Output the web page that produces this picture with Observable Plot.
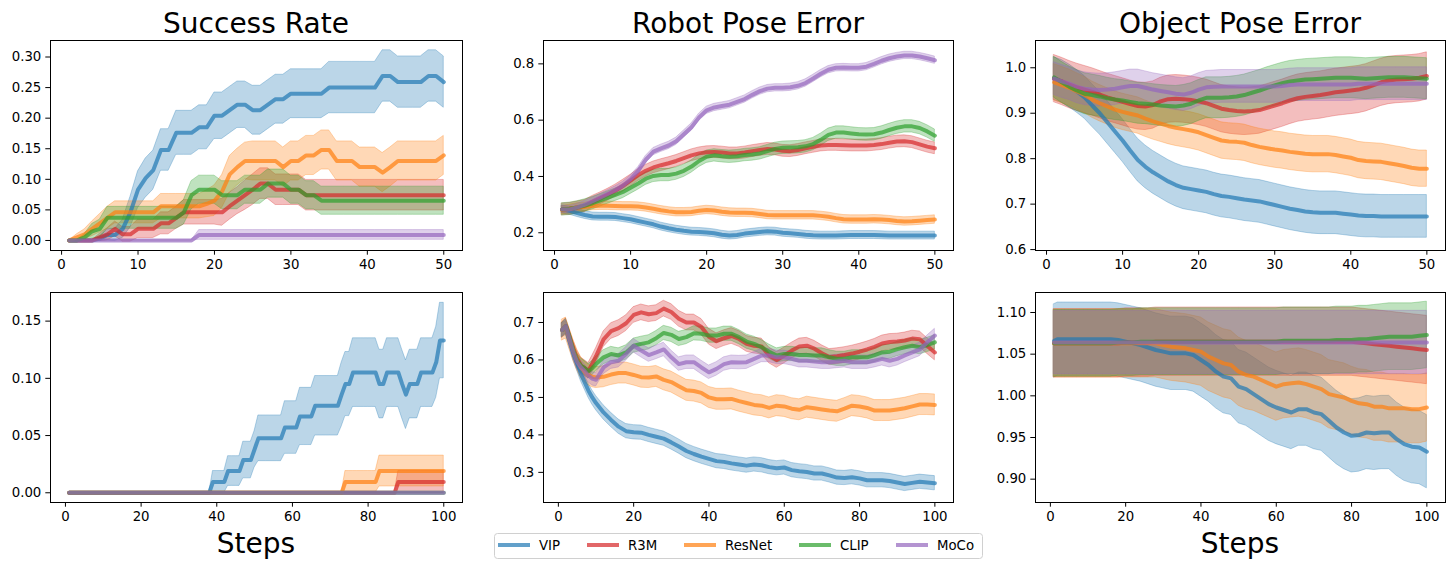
<!DOCTYPE html>
<html><head><meta charset="utf-8">
<script src="https://cdn.jsdelivr.net/npm/d3@7"></script>
<script src="https://cdn.jsdelivr.net/npm/@observablehq/plot@0.6"></script>
<style>
html,body{margin:0;padding:0;background:#fff;overflow:hidden}
#root{position:relative;width:1455px;height:569px;font-family:"DejaVu Sans",sans-serif}
</style></head><body><div id="root"></div>
<script>
// ---------- categories ----------
const SERIES = ["VIP", "R3M", "ResNet", "CLIP", "MoCo"];
const COLORS = ["#1f77b4", "#d62728", "#ff7f0e", "#2ca02c", "#9467bd"];
const TITLES = ["Success Rate", "Robot Pose Error", "Object Pose Error"];
const XLABEL = "Steps";
const STEPS_TOP = d3.range(1, 51);
const STEPS_BL = d3.range(1, 101);
const STEPS_B = [1,2,3,4,5,6,7,8,9,10,12,14,16,18,20,22,24,26,28,30,32,34,36,38,40,42,44,46,48,50,52,54,56,58,60,62,64,66,68,70,72,74,76,78,80,82,84,86,88,90,92,94,96,98,100];
const XTICKS_TOP = [0,10,20,30,40,50];
const XTICKS_BOT = [0,20,40,60,80,100];
const YTICKS = [
  [0,0.05,0.10,0.15,0.20,0.25,0.30],
  [0.2,0.4,0.6,0.8],
  [0.6,0.7,0.8,0.9,1.0],
  [0,0.05,0.10,0.15],
  [0.3,0.4,0.5,0.6,0.7],
  [0.90,0.95,1.00,1.05,1.10]
];

// ---------- Success rate, top (steps 1..50) ----------
const sr1_VIP = [0,0,0,0,0.003,0.009,0.009,0.019,0.046,0.083, 0.102,0.115,0.148,0.148,0.176,0.176,0.176,0.185,0.185,0.204, 0.204,0.213,0.222,0.222,0.213,0.213,0.222,0.231,0.231,0.24, 0.24,0.24,0.24,0.24,0.25,0.25,0.25,0.25,0.25,0.25, 0.25,0.269,0.269,0.259,0.259,0.259,0.259,0.269,0.269,0.259];
const sr1_VIP_err = [0,0,0,0,0.004,0.009,0.01,0.015,0.025,0.03, 0.032,0.032,0.034,0.034,0.036,0.036,0.036,0.036,0.036,0.038, 0.038,0.038,0.038,0.038,0.04,0.04,0.04,0.04,0.04,0.04, 0.04,0.04,0.04,0.04,0.042,0.042,0.042,0.042,0.042,0.042, 0.042,0.042,0.042,0.042,0.042,0.042,0.042,0.042,0.042,0.042];
const sr1_R3M = [0,0,0,0,0.005,0.01,0.019,0.01,0.01,0.019, 0.019,0.019,0.028,0.028,0.037,0.046,0.046,0.046,0.046,0.046, 0.046,0.056,0.065,0.074,0.083,0.093,0.093,0.083,0.083,0.083, 0.083,0.074,0.074,0.074,0.074,0.074,0.074,0.074,0.074,0.074, 0.074,0.074,0.074,0.074,0.074,0.074,0.074,0.074,0.074,0.074];
const sr1_R3M_err = [0,0,0,0,0.006,0.01,0.012,0.012,0.012,0.015, 0.015,0.015,0.018,0.018,0.018,0.02,0.02,0.02,0.02,0.02, 0.022,0.022,0.022,0.024,0.025,0.025,0.025,0.025,0.025,0.025, 0.025,0.025,0.025,0.025,0.025,0.025,0.025,0.025,0.025,0.025, 0.025,0.025,0.025,0.025,0.025,0.025,0.025,0.025,0.025,0.025];
const sr1_ResNet = [0,0.005,0.01,0.019,0.028,0.037,0.046,0.046,0.046,0.046, 0.046,0.046,0.056,0.056,0.056,0.056,0.056,0.056,0.06,0.065, 0.08,0.108,0.12,0.13,0.13,0.13,0.13,0.13,0.12,0.13, 0.13,0.139,0.139,0.148,0.148,0.13,0.13,0.13,0.12,0.12, 0.12,0.111,0.12,0.13,0.13,0.13,0.13,0.13,0.13,0.139];
const sr1_ResNet_err = [0,0.005,0.008,0.012,0.015,0.018,0.018,0.018,0.018,0.018, 0.018,0.018,0.02,0.02,0.02,0.02,0.02,0.02,0.022,0.025, 0.027,0.03,0.03,0.03,0.032,0.032,0.032,0.032,0.032,0.032, 0.032,0.032,0.032,0.032,0.032,0.032,0.032,0.032,0.032,0.032, 0.032,0.032,0.032,0.032,0.032,0.032,0.032,0.032,0.032,0.032];
const sr1_CLIP = [0,0,0.005,0.015,0.019,0.037,0.037,0.037,0.037,0.037, 0.037,0.037,0.037,0.037,0.037,0.046,0.074,0.083,0.083,0.083, 0.074,0.074,0.074,0.083,0.083,0.083,0.093,0.093,0.093,0.083, 0.083,0.074,0.074,0.065,0.065,0.065,0.065,0.065,0.065,0.065, 0.065,0.065,0.065,0.065,0.065,0.065,0.065,0.065,0.065,0.065];
const sr1_CLIP_err = [0,0,0.005,0.012,0.015,0.018,0.018,0.018,0.018,0.018, 0.018,0.018,0.018,0.018,0.018,0.02,0.023,0.023,0.023,0.023, 0.023,0.023,0.023,0.023,0.023,0.023,0.023,0.023,0.023,0.023, 0.023,0.023,0.023,0.023,0.023,0.023,0.023,0.023,0.023,0.023, 0.023,0.023,0.023,0.023,0.023,0.023,0.023,0.023,0.023,0.023];
const sr1_MoCo = [0,0,0,0,0,0,0,0,0,0, 0,0,0,0,0,0,0,0.009,0.009,0.009, 0.009,0.009,0.009,0.009,0.009,0.009,0.009,0.009,0.009,0.009, 0.009,0.009,0.009,0.009,0.009,0.009,0.009,0.009,0.009,0.009, 0.009,0.009,0.009,0.009,0.009,0.009,0.009,0.009,0.009,0.009];
const sr1_MoCo_err = [0,0,0,0,0,0,0,0,0,0, 0,0,0,0,0,0,0,0.008,0.008,0.008, 0.008,0.008,0.008,0.008,0.008,0.008,0.008,0.008,0.008,0.008, 0.008,0.008,0.008,0.008,0.008,0.008,0.008,0.008,0.008,0.008, 0.008,0.008,0.008,0.008,0.008,0.008,0.008,0.008,0.008,0.008];

// ---------- Robot pose error, top (steps 1..50) ----------
const rp1_VIP = [0.283,0.278,0.27,0.263,0.258,0.257,0.257,0.256,0.252,0.248, 0.242,0.236,0.23,0.222,0.216,0.211,0.207,0.204,0.203,0.201, 0.198,0.193,0.19,0.192,0.197,0.2,0.203,0.205,0.204,0.2, 0.198,0.196,0.193,0.191,0.19,0.19,0.19,0.191,0.192,0.192, 0.192,0.192,0.191,0.19,0.19,0.19,0.19,0.19,0.19,0.19];
const rp1_R3M = [0.283,0.285,0.29,0.295,0.31,0.322,0.335,0.35,0.367,0.385, 0.405,0.42,0.432,0.44,0.447,0.455,0.465,0.475,0.482,0.486, 0.487,0.485,0.482,0.482,0.485,0.49,0.494,0.498,0.496,0.491, 0.49,0.494,0.5,0.505,0.51,0.512,0.512,0.511,0.51,0.51, 0.51,0.512,0.515,0.52,0.524,0.525,0.522,0.514,0.506,0.5];
const rp1_ResNet = [0.28,0.285,0.29,0.292,0.295,0.296,0.296,0.295,0.294,0.294, 0.293,0.29,0.285,0.28,0.276,0.273,0.273,0.274,0.278,0.281, 0.279,0.275,0.272,0.271,0.271,0.27,0.267,0.263,0.262,0.262, 0.262,0.262,0.262,0.262,0.26,0.257,0.252,0.248,0.247,0.247, 0.247,0.248,0.247,0.245,0.242,0.24,0.241,0.243,0.245,0.247];
const rp1_CLIP = [0.283,0.285,0.29,0.297,0.305,0.315,0.325,0.335,0.345,0.36, 0.375,0.392,0.402,0.405,0.405,0.41,0.42,0.435,0.455,0.47, 0.475,0.472,0.47,0.472,0.476,0.478,0.482,0.49,0.498,0.502, 0.503,0.504,0.507,0.515,0.53,0.548,0.556,0.556,0.553,0.55, 0.549,0.55,0.556,0.565,0.573,0.578,0.578,0.572,0.56,0.545];
const rp1_MoCo = [0.283,0.283,0.29,0.3,0.312,0.325,0.338,0.352,0.368,0.39, 0.42,0.46,0.488,0.5,0.51,0.525,0.55,0.575,0.61,0.635, 0.645,0.65,0.655,0.665,0.675,0.69,0.703,0.712,0.715,0.715, 0.717,0.722,0.732,0.748,0.765,0.779,0.786,0.787,0.786,0.786, 0.79,0.8,0.811,0.82,0.826,0.83,0.83,0.826,0.82,0.813];
const rp1_err = [0.014, 0.021, 0.015, 0.022, 0.013];

// ---------- Object pose error, top (steps 1..50) ----------
const op1_VIP = [0.976,0.97,0.96,0.948,0.935,0.917,0.9,0.88,0.86,0.84, 0.818,0.797,0.782,0.77,0.76,0.75,0.742,0.736,0.733,0.73, 0.727,0.722,0.718,0.716,0.713,0.71,0.708,0.706,0.702,0.698, 0.694,0.69,0.687,0.684,0.682,0.681,0.681,0.681,0.679,0.677, 0.675,0.674,0.674,0.673,0.673,0.673,0.673,0.673,0.673,0.673];
const op1_R3M = [0.976,0.97,0.963,0.957,0.952,0.947,0.941,0.935,0.93,0.925, 0.92,0.916,0.915,0.918,0.926,0.931,0.932,0.931,0.929,0.926, 0.922,0.916,0.91,0.907,0.905,0.904,0.905,0.907,0.912,0.917, 0.922,0.928,0.933,0.936,0.938,0.94,0.943,0.946,0.948,0.95, 0.952,0.956,0.962,0.968,0.972,0.974,0.975,0.976,0.978,0.982];
const op1_ResNet = [0.968,0.962,0.956,0.948,0.94,0.93,0.922,0.915,0.908,0.903, 0.899,0.895,0.888,0.882,0.877,0.872,0.868,0.865,0.862,0.858, 0.852,0.846,0.84,0.838,0.837,0.835,0.83,0.826,0.823,0.82, 0.818,0.815,0.813,0.811,0.81,0.81,0.81,0.808,0.805,0.802, 0.797,0.795,0.794,0.793,0.79,0.787,0.784,0.78,0.778,0.778];
const op1_CLIP = [0.979,0.968,0.958,0.95,0.943,0.94,0.937,0.933,0.93,0.928, 0.925,0.922,0.921,0.919,0.917,0.916,0.915,0.917,0.921,0.928, 0.934,0.934,0.934,0.935,0.937,0.94,0.945,0.95,0.956,0.961, 0.966,0.97,0.972,0.974,0.975,0.976,0.977,0.978,0.978,0.978, 0.977,0.976,0.977,0.978,0.979,0.979,0.979,0.978,0.977,0.976];
const op1_MoCo = [0.976,0.97,0.965,0.958,0.954,0.952,0.951,0.952,0.954,0.957, 0.96,0.96,0.956,0.952,0.949,0.946,0.943,0.941,0.945,0.952, 0.957,0.958,0.959,0.959,0.959,0.959,0.959,0.959,0.959,0.959, 0.96,0.962,0.963,0.963,0.963,0.963,0.963,0.963,0.963,0.963, 0.965,0.965,0.965,0.965,0.965,0.965,0.965,0.965,0.965,0.965];
const op1_err = [0.047, 0.052, 0.04, 0.045, 0.036];

// ---------- Success rate, bottom (steps 1..100) ----------
const sr2_VIP = [0,0,0,0,0,0,0,0,0,0, 0,0,0,0,0,0,0,0,0,0, 0,0,0,0,0,0,0,0,0,0, 0,0,0,0,0,0,0,0,0.0095,0.0095, 0.0095,0.0095,0.019,0.019,0.019,0.019,0.0286,0.0286,0.0286,0.038, 0.0476,0.0476,0.0476,0.0476,0.0476,0.0476,0.0476,0.057,0.057,0.057, 0.057,0.0667,0.0667,0.0667,0.0667,0.076,0.076,0.076,0.076,0.076, 0.076,0.076,0.0857,0.095,0.095,0.105,0.105,0.105,0.105,0.105, 0.105,0.105,0.095,0.095,0.105,0.105,0.105,0.105,0.095,0.0857, 0.095,0.095,0.095,0.105,0.105,0.105,0.105,0.114,0.133,0.133];
const sr2_VIP_err = [0,0,0,0,0,0,0,0,0,0, 0,0,0,0,0,0,0,0,0,0, 0,0,0,0,0,0,0,0,0,0, 0,0,0,0,0,0,0,0,0.0095,0.0095, 0.0095,0.0095,0.013,0.013,0.013,0.013,0.016,0.016,0.016,0.016, 0.02,0.02,0.02,0.02,0.02,0.02,0.02,0.023,0.023,0.023, 0.023,0.025,0.025,0.025,0.025,0.026,0.026,0.026,0.026,0.026, 0.026,0.026,0.028,0.028,0.028,0.03,0.03,0.03,0.03,0.03, 0.03,0.03,0.03,0.03,0.03,0.03,0.03,0.03,0.03,0.03, 0.03,0.03,0.03,0.03,0.03,0.03,0.03,0.031,0.033,0.033];
const sr2_R3M = [0,0,0,0,0,0,0,0,0,0, 0,0,0,0,0,0,0,0,0,0, 0,0,0,0,0,0,0,0,0,0, 0,0,0,0,0,0,0,0,0,0, 0,0,0,0,0,0,0,0,0,0, 0,0,0,0,0,0,0,0,0,0, 0,0,0,0,0,0,0,0,0,0, 0,0,0,0,0,0,0,0,0,0, 0,0,0,0,0,0,0,0.0095,0.0095,0.0095, 0.0095,0.0095,0.0095,0.0095,0.0095,0.0095,0.0095,0.0095,0.0095,0.0095];
const sr2_R3M_err = [0,0,0,0,0,0,0,0,0,0, 0,0,0,0,0,0,0,0,0,0, 0,0,0,0,0,0,0,0,0,0, 0,0,0,0,0,0,0,0,0,0, 0,0,0,0,0,0,0,0,0,0, 0,0,0,0,0,0,0,0,0,0, 0,0,0,0,0,0,0,0,0,0, 0,0,0,0,0,0,0,0,0,0, 0,0,0,0,0,0,0,0.0095,0.0095,0.0095, 0.0095,0.0095,0.0095,0.0095,0.0095,0.0095,0.0095,0.0095,0.0095,0.0095];
const sr2_ResNet = [0,0,0,0,0,0,0,0,0,0, 0,0,0,0,0,0,0,0,0,0, 0,0,0,0,0,0,0,0,0,0, 0,0,0,0,0,0,0,0,0,0, 0,0,0,0,0,0,0,0,0,0, 0,0,0,0,0,0,0,0,0,0, 0,0,0,0,0,0,0,0,0,0, 0,0,0,0.0095,0.0095,0.0095,0.0095,0.0095,0.0095,0.0095, 0.0095,0.0095,0.019,0.019,0.019,0.019,0.019,0.019,0.019,0.019, 0.019,0.019,0.019,0.019,0.019,0.019,0.019,0.019,0.019,0.019];
const sr2_ResNet_err = [0,0,0,0,0,0,0,0,0,0, 0,0,0,0,0,0,0,0,0,0, 0,0,0,0,0,0,0,0,0,0, 0,0,0,0,0,0,0,0,0,0, 0,0,0,0,0,0,0,0,0,0, 0,0,0,0,0,0,0,0,0,0, 0,0,0,0,0,0,0,0,0,0, 0,0,0,0.0095,0.0095,0.0095,0.0095,0.0095,0.0095,0.0095, 0.0095,0.0095,0.0135,0.0135,0.0135,0.0135,0.0135,0.0135,0.0135,0.0135, 0.0135,0.0135,0.0135,0.0135,0.0135,0.0135,0.0135,0.0135,0.0135,0.0135];
const sr2_CLIP = [0,0,0,0,0,0,0,0,0,0, 0,0,0,0,0,0,0,0,0,0, 0,0,0,0,0,0,0,0,0,0, 0,0,0,0,0,0,0,0,0,0, 0,0,0,0,0,0,0,0,0,0, 0,0,0,0,0,0,0,0,0,0, 0,0,0,0,0,0,0,0,0,0, 0,0,0,0,0,0,0,0,0,0, 0,0,0,0,0,0,0,0,0,0, 0,0,0,0,0,0,0,0,0,0];
const sr2_MoCo = [0,0,0,0,0,0,0,0,0,0, 0,0,0,0,0,0,0,0,0,0, 0,0,0,0,0,0,0,0,0,0, 0,0,0,0,0,0,0,0,0,0, 0,0,0,0,0,0,0,0,0,0, 0,0,0,0,0,0,0,0,0,0, 0,0,0,0,0,0,0,0,0,0, 0,0,0,0,0,0,0,0,0,0, 0,0,0,0,0,0,0,0,0,0, 0,0,0,0,0,0,0,0,0,0];

// ---------- Robot pose error, bottom (STEPS_B) ----------
const rp2_VIP = [0.68,0.685,0.65,0.617,0.59,0.562,0.54,0.518,0.5,0.485, 0.46,0.44,0.422,0.41,0.407,0.406,0.4,0.395,0.39,0.38,0.369,0.357,0.349,0.342,0.336,0.33,0.328,0.324,0.321,0.318,0.321,0.319,0.314,0.311,0.313,0.306,0.303,0.301,0.297,0.297,0.292,0.286,0.285,0.287,0.284,0.279,0.279,0.279,0.277,0.273,0.269,0.272,0.275,0.273,0.271];
const rp2_R3M = [0.68,0.69,0.66,0.63,0.603,0.585,0.578,0.571,0.59,0.61, 0.655,0.677,0.685,0.698,0.72,0.727,0.722,0.725,0.737,0.728,0.71,0.7,0.7,0.688,0.662,0.65,0.658,0.664,0.656,0.643,0.638,0.636,0.612,0.6,0.612,0.625,0.636,0.638,0.63,0.618,0.608,0.61,0.613,0.617,0.622,0.628,0.635,0.644,0.648,0.649,0.652,0.657,0.655,0.637,0.62];
const rp2_ResNet = [0.68,0.685,0.655,0.625,0.6,0.58,0.568,0.56,0.555,0.553, 0.555,0.561,0.565,0.565,0.56,0.554,0.553,0.556,0.547,0.541,0.53,0.519,0.517,0.512,0.5,0.495,0.495,0.496,0.49,0.485,0.48,0.478,0.472,0.478,0.476,0.47,0.467,0.474,0.471,0.468,0.465,0.463,0.47,0.478,0.476,0.472,0.465,0.465,0.465,0.468,0.471,0.476,0.481,0.481,0.48];
const rp2_CLIP = [0.68,0.69,0.66,0.625,0.598,0.585,0.578,0.57,0.578,0.589, 0.607,0.616,0.612,0.62,0.638,0.643,0.647,0.658,0.672,0.667,0.656,0.661,0.671,0.67,0.665,0.665,0.67,0.67,0.661,0.649,0.643,0.634,0.622,0.612,0.616,0.616,0.613,0.613,0.612,0.612,0.607,0.603,0.603,0.607,0.607,0.607,0.613,0.62,0.622,0.629,0.634,0.638,0.634,0.64,0.647];
const rp2_MoCo = [0.68,0.69,0.655,0.62,0.594,0.58,0.57,0.558,0.55,0.547, 0.58,0.594,0.598,0.616,0.638,0.625,0.613,0.62,0.628,0.607,0.589,0.594,0.594,0.58,0.567,0.576,0.589,0.594,0.593,0.594,0.603,0.612,0.612,0.607,0.607,0.603,0.598,0.598,0.596,0.594,0.594,0.596,0.598,0.594,0.594,0.594,0.598,0.603,0.598,0.603,0.612,0.62,0.628,0.647,0.665];
const rp2_err = [0.019, 0.021, 0.028, 0.019, 0.018];

// ---------- Object pose error, bottom (STEPS_B) ----------
const op2_VIP = [1.066,1.068,1.068,1.068,1.068,1.068,1.068,1.068,1.068,1.068, 1.068,1.068,1.068,1.067,1.065,1.063,1.061,1.058,1.055,1.053,1.051,1.051,1.051,1.049,1.043,1.037,1.029,1.023,1.021,1.011,1.008,1.002,0.996,0.99,0.986,0.983,0.98,0.984,0.984,0.98,0.978,0.97,0.962,0.956,0.952,0.953,0.956,0.955,0.956,0.956,0.948,0.942,0.939,0.938,0.933];
const op2_R3M = [1.063,1.063,1.063,1.063,1.063,1.063,1.063,1.063,1.063,1.063, 1.063,1.063,1.063,1.063,1.064,1.064,1.064,1.064,1.065,1.065,1.065,1.065,1.065,1.065,1.065,1.065,1.065,1.065,1.065,1.065,1.065,1.065,1.065,1.065,1.065,1.065,1.065,1.065,1.065,1.065,1.065,1.065,1.065,1.065,1.065,1.064,1.063,1.062,1.061,1.06,1.059,1.058,1.057,1.056,1.055];
const op2_ResNet = [1.063,1.063,1.063,1.063,1.063,1.063,1.063,1.063,1.063,1.063, 1.063,1.063,1.063,1.063,1.063,1.063,1.063,1.063,1.063,1.061,1.059,1.058,1.057,1.055,1.053,1.047,1.043,1.039,1.037,1.029,1.025,1.023,1.019,1.015,1.011,1.014,1.015,1.016,1.014,1.011,1.008,1.002,1.0,0.998,0.994,0.991,0.99,0.987,0.987,0.985,0.985,0.985,0.984,0.984,0.986];
const op2_CLIP = [1.063,1.063,1.063,1.063,1.063,1.063,1.063,1.063,1.063,1.063, 1.063,1.063,1.063,1.064,1.064,1.064,1.065,1.065,1.065,1.065,1.065,1.065,1.065,1.065,1.065,1.065,1.065,1.065,1.065,1.065,1.065,1.065,1.065,1.065,1.065,1.066,1.066,1.066,1.066,1.066,1.066,1.066,1.067,1.067,1.067,1.068,1.068,1.069,1.07,1.071,1.071,1.071,1.071,1.072,1.073];
const op2_MoCo = [1.064,1.064,1.064,1.064,1.064,1.064,1.064,1.064,1.064,1.064, 1.064,1.064,1.064,1.064,1.064,1.064,1.064,1.064,1.064,1.064,1.064,1.064,1.064,1.064,1.064,1.064,1.064,1.064,1.064,1.064,1.064,1.064,1.064,1.064,1.064,1.064,1.064,1.064,1.064,1.064,1.064,1.064,1.064,1.064,1.064,1.064,1.064,1.064,1.064,1.064,1.064,1.064,1.064,1.064,1.064];
const op2_err = [0.044, 0.041, 0.041, 0.04, 0.038];

// ---------- panel table ----------
const PANELS = [
  { steps: STEPS_TOP, means: [sr1_VIP, sr1_R3M, sr1_ResNet, sr1_CLIP, sr1_MoCo],
    errs: [sr1_VIP_err, sr1_R3M_err, sr1_ResNet_err, sr1_CLIP_err, sr1_MoCo_err],
    xd: [-1.45, 52.45], yd: [-0.0164, 0.327], xt: XTICKS_TOP, yt: YTICKS[0], yf: ".2f", frame: [50, 40, 412, 210] },
  { steps: STEPS_TOP, means: [rp1_VIP, rp1_R3M, rp1_ResNet, rp1_CLIP, rp1_MoCo], errs: rp1_err,
    xd: [-1.45, 52.45], yd: [0.137, 0.883], xt: XTICKS_TOP, yt: YTICKS[1], yf: ".1f", frame: [543, 40, 410, 210] },
  { steps: STEPS_TOP, means: [op1_VIP, op1_R3M, op1_ResNet, op1_CLIP, op1_MoCo], errs: op1_err,
    xd: [-1.45, 52.45], yd: [0.598, 1.060], xt: XTICKS_TOP, yt: YTICKS[2], yf: ".1f", frame: [1035, 40, 410, 210] },
  { steps: STEPS_BL, means: [sr2_VIP, sr2_R3M, sr2_ResNet, sr2_CLIP, sr2_MoCo],
    errs: [sr2_VIP_err, sr2_R3M_err, sr2_ResNet_err, 0, 0],
    xd: [-3.95, 104.95], yd: [-0.0085, 0.175], xt: XTICKS_BOT, yt: YTICKS[3], yf: ".2f", frame: [50, 292, 412, 210] },
  { steps: STEPS_B, means: [rp2_VIP, rp2_R3M, rp2_ResNet, rp2_CLIP, rp2_MoCo], errs: rp2_err,
    xd: [-3.95, 104.95], yd: [0.2196, 0.780], xt: XTICKS_BOT, yt: YTICKS[4], yf: ".1f", frame: [543, 292, 410, 210] },
  { steps: STEPS_B, means: [op2_VIP, op2_R3M, op2_ResNet, op2_CLIP, op2_MoCo], errs: op2_err,
    xd: [-3.95, 104.95], yd: [0.872, 1.124], xt: XTICKS_BOT, yt: YTICKS[5], yf: ".2f", frame: [1035, 292, 410, 210] }
];

const root = document.getElementById("root");
const mL = 62, mR = 12, mT = 12, mB = 34;

PANELS.forEach(p => {
  const [fl, ft, fw, fh] = p.frame;
  const areas = [], lines = [];
  SERIES.forEach((name, k) => {
    const mean = p.means[k];
    const err = p.errs[k];
    const rows = p.steps.map((x, i) => {
      const e = Array.isArray(err) ? err[i] : err;
      return { x, y: mean[i], lo: mean[i] - e, hi: mean[i] + e, s: name };
    });
    // bands sit below every line (as with matplotlib's default z-order)
    areas.push(Plot.areaY(rows, { x: "x", y1: "lo", y2: "hi", fill: COLORS[k], fillOpacity: 0.3,
      stroke: COLORS[k], strokeOpacity: 0.3, strokeWidth: 1, clip: true }));
    lines.push(Plot.lineY(rows, { x: "x", y: "y", stroke: COLORS[k], strokeOpacity: 0.7, strokeWidth: 4, clip: true }));
  });
  const marks = [
    ...areas, ...lines,
    Plot.frame({ stroke: "#000", strokeWidth: 1 }),
    Plot.axisX({ ticks: p.xt, tickSize: 4.7, tickPadding: 4, tickFormat: d => String(d), label: null }),
    Plot.axisY({ ticks: p.yt, tickSize: 4.7, tickPadding: 4.5, tickFormat: d3.format(p.yf), label: null })
  ];
  const svg = Plot.plot({
    width: fw + mL + mR, height: fh + mT + mB,
    marginLeft: mL, marginRight: mR, marginTop: mT, marginBottom: mB,
    x: { domain: p.xd }, y: { domain: p.yd },
    style: { fontFamily: "DejaVu Sans", fontSize: "13.3px", color: "#000", background: "transparent", overflow: "visible" },
    marks
  });
  svg.style.position = "absolute";
  svg.style.left = (fl - mL) + "px";
  svg.style.top = (ft - mT) + "px";
  root.appendChild(svg);
});

// ---------- titles, x labels, legend ----------
const ov = d3.select(root).append("svg")
  .attr("width", 1455).attr("height", 569)
  .style("position", "absolute").style("left", "0px").style("top", "0px")
  .style("pointer-events", "none")
  .style("font-family", "DejaVu Sans");
const centers = [256, 748, 1240];
TITLES.forEach((t, i) => {
  ov.append("text").attr("x", centers[i]).attr("y", 33).attr("text-anchor", "middle")
    .attr("font-size", "28px").attr("fill", "#000").text(t);
});
[256, 1240].forEach(cx => {
  ov.append("text").attr("x", cx).attr("y", 553).attr("text-anchor", "middle")
    .attr("font-size", "28px").attr("fill", "#000").text(XLABEL);
});
ov.append("rect").attr("x", 494.5).attr("y", 533.5).attr("width", 488).attr("height", 25)
  .attr("rx", 3).attr("fill", "#fff").attr("fill-opacity", 0.8).attr("stroke", "#d0d0d0");
const legX = [498, 587, 684, 799, 896];
SERIES.forEach((name, k) => {
  ov.append("line").attr("x1", legX[k]).attr("x2", legX[k] + 32).attr("y1", 545).attr("y2", 545)
    .attr("stroke", COLORS[k]).attr("stroke-opacity", 0.7).attr("stroke-width", 4);
  ov.append("text").attr("x", legX[k] + 41).attr("y", 550).attr("font-size", "13.3px").attr("fill", "#000").text(name);
});
</script></body></html>
